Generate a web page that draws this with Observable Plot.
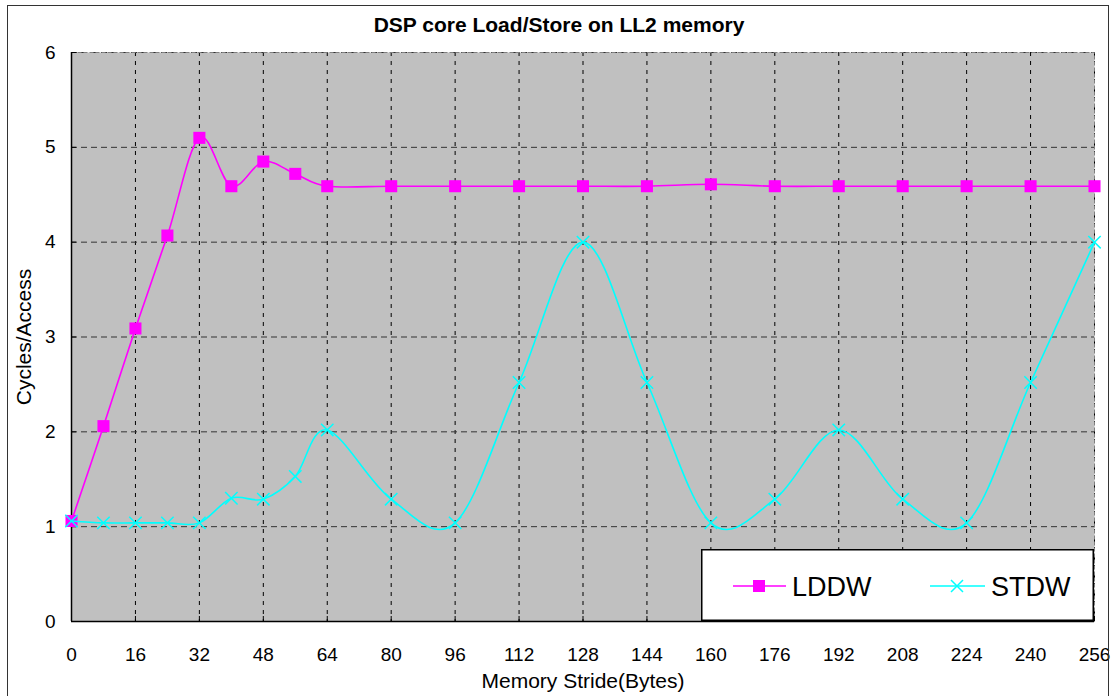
<!DOCTYPE html>
<html><head><meta charset="utf-8">
<script src="https://cdn.jsdelivr.net/npm/d3@7"></script>
<script src="https://cdn.jsdelivr.net/npm/@observablehq/plot@0.6"></script>
<style>
body{margin:0;background:#fff;font-family:"Liberation Sans",Arial,sans-serif;}
#wrap{position:relative;width:1112px;height:696px;overflow:hidden;}
#frame{position:absolute;left:7px;top:5px;width:1100px;height:760px;border:1.5px solid #333;pointer-events:none}
#title{height:30px;padding-top:10px;line-height:30px;text-align:center;font-weight:bold;font-size:21px;padding-left:6px;}
#legend{position:absolute;left:701px;top:549px;}
#chart svg{display:block}
</style></head><body>
<div id="wrap">
<div id="title">DSP core Load/Store on LL2 memory</div>
<div id="chart"></div>
<svg id="legend" width="393" height="72" font-family="Liberation Sans, Arial, sans-serif">
<rect x="0.75" y="0.75" width="391.5" height="70.5" fill="#fff" stroke="#000" stroke-width="1.5"/>
<line x1="32" x2="85" y1="37" y2="37" stroke="#ff00ff" stroke-width="1.6"/>
<rect x="52" y="31" width="12" height="12" fill="#ff00ff"/>
<text x="91" y="47" font-size="27">LDDW</text>
<line x1="229" x2="284" y1="37" y2="37" stroke="#00ffff" stroke-width="1.6"/>
<path d="M250,31L262,43M262,31L250,43" stroke="#00ffff" stroke-width="1.5"/>
<text x="290" y="47" font-size="27">STDW</text>
</svg>
<div id="frame"></div>
</div>
<script>
const strides = [0, 8, 16, 24, 32, 40, 48, 56, 64, 80, 96, 112, 128, 144, 160, 176, 192, 208, 224, 240, 256];
const lddw = [1.06, 2.06, 3.09, 4.07, 5.1, 4.59, 4.85, 4.72, 4.59, 4.59, 4.59, 4.59, 4.59, 4.59, 4.61, 4.59, 4.59, 4.59, 4.59, 4.59, 4.59];
const stdw = [1.06, 1.04, 1.04, 1.04, 1.04, 1.3, 1.29, 1.53, 2.02, 1.29, 1.04, 2.52, 4.0, 2.52, 1.04, 1.29, 2.02, 1.29, 1.04, 2.52, 4.0];
const xTicks = [0, 16, 32, 48, 64, 80, 96, 112, 128, 144, 160, 176, 192, 208, 224, 240, 256];
const yTicks = [0, 1, 2, 3, 4, 5, 6];
const xTitle = "Memory Stride(Bytes)";
const yTitle = "Cycles/Access";

const rows = strides.map((s, i) => ({stride: s, lddw: lddw[i], stdw: stdw[i]}));

const chart = Plot.plot({
  width: 1112, height: 656,
  marginTop: 12, marginBottom: 75, marginLeft: 71, marginRight: 18,
  style: {fontFamily: "Liberation Sans, Arial, sans-serif", fontSize: "19px", color: "#000", background: "transparent"},
  x: {domain: [0, 256]},
  y: {domain: [0, 6]},
  marks: [
    Plot.frame({fill: "#c0c0c0"}),
    Plot.gridX(xTicks, {stroke: "#000", strokeOpacity: 1, strokeDasharray: "4,5", strokeWidth: 1}),
    Plot.gridY(yTicks, {stroke: "#333", strokeOpacity: 1, strokeDasharray: "6,4", strokeWidth: 1}),
    Plot.frame({stroke: "#808080", strokeDasharray: "4,2"}),
    Plot.axisX(xTicks, {tickSize: -5, tickPadding: 31, fontSize: 19, tickFormat: d => String(d), label: null}),
    Plot.axisY(yTicks, {tickSize: -5, tickPadding: 21, fontSize: 19, tickFormat: d => String(d), label: null}),
    Plot.text([xTitle], {frameAnchor: "bottom", dy: 66, lineAnchor: "bottom", textAnchor: "middle", fontSize: 21, fill: "#000"}),
    Plot.text([yTitle], {frameAnchor: "left", dx: -55, rotate: -90, lineAnchor: "top", textAnchor: "middle", fontSize: 21, fill: "#000"}),
    Plot.ruleX([0], {stroke: "#000", strokeWidth: 1.5}),
    Plot.ruleY([0], {stroke: "#000", strokeWidth: 1.5}),
    Plot.line(rows, {x: "stride", y: "lddw", stroke: "#ff00ff", strokeWidth: 1.6, curve: "cardinal"}),
    Plot.dot(rows, {x: "stride", y: "lddw", symbol: "square", fill: "#ff00ff", r: 6.8}),
    Plot.line(rows, {x: "stride", y: "stdw", stroke: "#00ffff", strokeWidth: 1.6, curve: "cardinal"}),
    Plot.dot(rows, {x: "stride", y: "stdw", symbol: "times", stroke: "#00ffff", r: 5.7, strokeWidth: 1.5})
  ]
});
document.getElementById("chart").appendChild(chart);
</script>
</body></html>
